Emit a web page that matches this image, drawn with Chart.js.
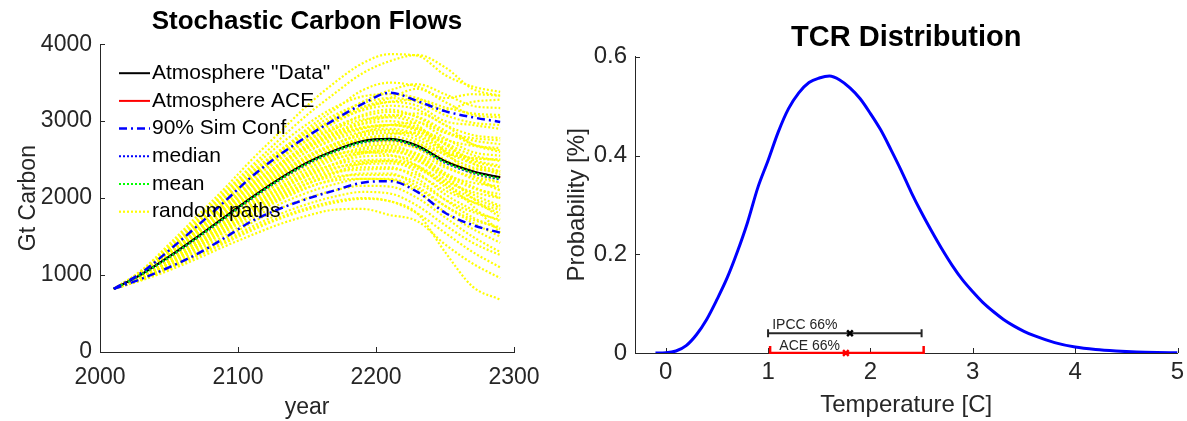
<!DOCTYPE html>
<html>
<head>
<meta charset="utf-8">
<title>Stochastic Carbon Flows / TCR Distribution</title>
<script src="https://cdn.jsdelivr.net/npm/chart.js"></script>
<style>
  body { margin: 0; background: #fff; }
  #wrap { position: relative; width: 1187px; height: 421px; overflow: hidden; }
  #leftBox { position: absolute; left: 0; top: 0; width: 560px; height: 421px; }
  #rightBox { position: absolute; left: 560px; top: 0; width: 627px; height: 421px; }
</style>
</head>
<body>
<div id="wrap">
  <div id="leftBox"><canvas id="carbonChart" width="560" height="421"></canvas></div>
  <div id="rightBox"><canvas id="tcrChart" width="627" height="421"></canvas></div>
</div>
<script>
// ---------- left panel: stochastic carbon flows ----------
const years = [2010, 2030, 2050, 2070, 2090, 2110, 2130, 2150, 2170, 2190, 2210, 2230, 2250, 2270, 2290];
const atmData   = [820, 1010, 1240, 1490, 1750, 2010, 2250, 2460, 2620, 2740, 2770, 2680, 2480, 2350, 2270];
const atmACE    = [820, 1010, 1238, 1487, 1747, 2007, 2247, 2457, 2617, 2737, 2766, 2676, 2476, 2346, 2266];
const simMedian = [820, 1005, 1228, 1475, 1733, 1992, 2232, 2442, 2603, 2722, 2752, 2660, 2458, 2325, 2240];
const simMean   = [820, 1007, 1232, 1480, 1738, 1998, 2238, 2448, 2608, 2727, 2758, 2667, 2466, 2334, 2250];
const confUpper = [820, 1030, 1320, 1630, 1950, 2280, 2560, 2800, 3020, 3220, 3370, 3260, 3130, 3050, 2990];
const confLower = [820, 950, 1100, 1270, 1480, 1700, 1860, 1990, 2100, 2200, 2220, 2080, 1810, 1650, 1550];
const randomPaths = [
  [820, 1060, 1400, 1760, 2120, 2500, 2850, 3200, 3500, 3750, 3870, 3850, 3600, 3450, 3380],
  [820, 1050, 1380, 1720, 2080, 2420, 2760, 3080, 3360, 3620, 3780, 3860, 3700, 3420, 3330],
  [820, 1040, 1350, 1680, 2050, 2340, 2600, 2900, 3150, 3400, 3500, 3450, 3300, 3350, 3330],
  [820, 1030, 1320, 1640, 1990, 2300, 2560, 2800, 3050, 3250, 3400, 3480, 3350, 3200, 3170],
  [820, 1020, 1290, 1600, 1940, 2250, 2520, 2760, 2980, 3150, 3250, 3200, 3000, 2950, 2900],
  [820, 1020, 1280, 1580, 1900, 2200, 2450, 2700, 2900, 3080, 3150, 3050, 2850, 2750, 2700],
  [820, 1010, 1260, 1550, 1850, 2150, 2420, 2660, 2850, 3000, 3080, 3000, 2780, 2600, 2550],
  [820, 1010, 1250, 1520, 1810, 2100, 2370, 2600, 2780, 2900, 2950, 2900, 2700, 2500, 2420],
  [820, 1000, 1240, 1500, 1780, 2060, 2300, 2520, 2700, 2830, 2880, 2800, 2600, 2450, 2350],
  [820, 1000, 1230, 1480, 1760, 2030, 2270, 2480, 2650, 2780, 2800, 2720, 2500, 2330, 2200],
  [820, 990, 1210, 1460, 1720, 2000, 2230, 2430, 2600, 2700, 2730, 2640, 2420, 2250, 2100],
  [820, 990, 1200, 1440, 1700, 1960, 2190, 2380, 2550, 2650, 2680, 2560, 2330, 2150, 2000],
  [820, 980, 1190, 1420, 1670, 1930, 2150, 2340, 2500, 2600, 2620, 2500, 2250, 2050, 1900],
  [820, 980, 1180, 1400, 1650, 1900, 2100, 2290, 2440, 2540, 2550, 2420, 2150, 1950, 1800],
  [820, 970, 1160, 1380, 1620, 1860, 2060, 2240, 2380, 2470, 2480, 2330, 2050, 1850, 1700],
  [820, 970, 1150, 1360, 1590, 1820, 2020, 2190, 2320, 2400, 2400, 2250, 1980, 1750, 1600],
  [820, 960, 1130, 1330, 1550, 1770, 1970, 2130, 2250, 2320, 2320, 2150, 1900, 1680, 1500],
  [820, 960, 1120, 1310, 1510, 1730, 1920, 2070, 2180, 2250, 2240, 2080, 1820, 1600, 1420],
  [820, 950, 1100, 1280, 1470, 1680, 1860, 2000, 2100, 2160, 2150, 2000, 1750, 1500, 1300],
  [820, 950, 1090, 1260, 1440, 1630, 1790, 1920, 2020, 2080, 2060, 1900, 1650, 1420, 1260],
  [820, 940, 1080, 1240, 1410, 1580, 1730, 1850, 1940, 1990, 1960, 1800, 1550, 1300, 1100],
  [820, 930, 1060, 1210, 1370, 1520, 1660, 1770, 1850, 1860, 1780, 1700, 1400, 1150, 960],
  [820, 940, 1090, 1250, 1420, 1600, 1750, 1870, 1960, 2000, 1960, 1800, 1300, 850, 680],
  [820, 1030, 1310, 1620, 1960, 2280, 2540, 2750, 2900, 3020, 3050, 2950, 2600, 2300, 2100],
  [820, 990, 1220, 1480, 1770, 2050, 2300, 2520, 2700, 2850, 2950, 2980, 2850, 2780, 2750],
  [820, 1000, 1230, 1490, 1770, 2040, 2280, 2480, 2650, 2760, 2830, 2850, 2700, 2450, 2300],
  [820, 1040, 1340, 1670, 2020, 2350, 2620, 2850, 3020, 3180, 3300, 3420, 3250, 3080, 3050],
  [820, 970, 1170, 1400, 1650, 1900, 2120, 2300, 2450, 2580, 2620, 2550, 2300, 2000, 1750],
  [820, 960, 1140, 1350, 1570, 1800, 2000, 2180, 2330, 2450, 2480, 2400, 2200, 1900, 1550],
  [820, 1010, 1270, 1560, 1870, 2170, 2430, 2650, 2830, 2970, 3060, 3100, 2950, 2700, 2600],
  [820, 1040, 1330, 1650, 1990, 2320, 2610, 2870, 3080, 3230, 3300, 3250, 3080, 2980, 2950],
  [820, 1030, 1310, 1620, 1950, 2270, 2550, 2800, 3000, 3140, 3200, 3150, 2950, 2820, 2780],
  [820, 1020, 1300, 1600, 1920, 2230, 2500, 2740, 2930, 3060, 3120, 3060, 2880, 2700, 2620],
  [820, 1020, 1290, 1580, 1890, 2190, 2450, 2680, 2860, 2960, 3000, 2920, 2720, 2560, 2480],
  [820, 1010, 1270, 1560, 1860, 2160, 2420, 2640, 2810, 2910, 2950, 2900, 2760, 2680, 2650],
  [820, 1010, 1260, 1540, 1840, 2130, 2390, 2600, 2760, 2860, 2900, 2830, 2620, 2480, 2400],
  [820, 1000, 1250, 1520, 1810, 2090, 2340, 2550, 2710, 2810, 2850, 2760, 2560, 2400, 2330],
  [820, 1000, 1230, 1490, 1760, 2030, 2260, 2460, 2610, 2680, 2700, 2650, 2480, 2380, 2350],
  [820, 990, 1220, 1470, 1740, 2000, 2230, 2420, 2560, 2630, 2650, 2580, 2400, 2280, 2200],
  [820, 990, 1210, 1450, 1710, 1970, 2190, 2380, 2520, 2580, 2600, 2520, 2300, 2130, 2050],
  [820, 980, 1200, 1430, 1680, 1930, 2140, 2320, 2440, 2490, 2500, 2420, 2220, 2080, 2000],
  [820, 980, 1190, 1410, 1660, 1900, 2110, 2280, 2400, 2440, 2450, 2380, 2180, 2000, 1880],
  [820, 970, 1170, 1390, 1630, 1870, 2070, 2230, 2340, 2370, 2380, 2300, 2100, 1950, 1850],
  [820, 970, 1160, 1370, 1600, 1840, 2040, 2190, 2280, 2300, 2300, 2200, 1980, 1820, 1720],
  [820, 960, 1150, 1350, 1570, 1800, 1990, 2140, 2230, 2250, 2250, 2120, 1900, 1720, 1620],
  [820, 1040, 1330, 1650, 1990, 2310, 2590, 2840, 3030, 3180, 3250, 3280, 3180, 3100, 3080],
  [820, 1050, 1360, 1700, 2060, 2390, 2690, 2960, 3180, 3320, 3350, 3300, 3150, 3250, 3280],
  [820, 1010, 1270, 1560, 1880, 2180, 2440, 2660, 2830, 2920, 2950, 2870, 2650, 2520, 2500],
  [820, 1000, 1240, 1510, 1790, 2070, 2320, 2530, 2680, 2740, 2750, 2700, 2580, 2520, 2500],
  [820, 990, 1220, 1480, 1750, 2010, 2240, 2440, 2570, 2600, 2560, 2480, 2300, 2200, 2150]
];
const legendLabels = ['Atmosphere "Data"', 'Atmosphere ACE', '90% Sim Conf', 'median', 'mean', 'random paths'];

// ---------- right panel: TCR distribution ----------
const tcrTemp = [-0.1, 0, 0.1, 0.2, 0.3, 0.4, 0.5, 0.6, 0.7, 0.8, 0.9, 1.0, 1.1, 1.2, 1.3, 1.4, 1.5, 1.6, 1.7, 1.8, 1.9,
  2.0, 2.1, 2.2, 2.3, 2.4, 2.5, 2.6, 2.7, 2.8, 2.9, 3.0, 3.1, 3.2, 3.3, 3.4, 3.5, 3.6, 3.8, 4.0, 4.2, 4.4, 4.6, 4.8, 5.0];
const tcrProb = [0, 0.0005, 0.004, 0.015, 0.037, 0.068, 0.108, 0.152, 0.205, 0.265, 0.335, 0.39, 0.448, 0.495, 0.527, 0.548, 0.557, 0.561, 0.553, 0.537, 0.515,
  0.485, 0.452, 0.412, 0.37, 0.325, 0.284, 0.246, 0.21, 0.177, 0.148, 0.124, 0.102, 0.084, 0.068, 0.055, 0.044, 0.035, 0.021, 0.012, 0.007, 0.004, 0.002, 0.001, 0.0005];
const ipccRange = [1.0, 2.5];
const ipccBest = 1.8;
const ipccLevel = 0.04;
const aceRange = [1.02, 2.52];
const aceBest = 1.76;
const aceLevel = 0;
const ipccText = { text: 'IPCC 66%', x: 1.04, y: 0.057 };
const aceText = { text: 'ACE 66%', x: 1.11, y: 0.013 };

const FONT = '"Liberation Sans", Arial, Helvetica, sans-serif';
const AXIS = '#262626';
Chart.defaults.font.family = FONT;
Chart.defaults.color = AXIS;

function pts(xs, ys) {
  return xs.map((x, i) => ({ x: x, y: ys[i] }));
}

// small ticks pointing into the plot, like the original
const inwardTicks = {
  id: 'inwardTicks',
  beforeDatasetsDraw(chart) {
    const { ctx, chartArea, scales } = chart;
    ctx.save();
    ctx.strokeStyle = AXIS;
    ctx.lineWidth = 1;
    ctx.beginPath();
    scales.x.ticks.forEach(t => {
      const px = Math.round(scales.x.getPixelForValue(t.value)) + 0.5;
      ctx.moveTo(px, chartArea.bottom);
      ctx.lineTo(px, chartArea.bottom - 5);
    });
    scales.y.ticks.forEach(t => {
      const py = Math.round(scales.y.getPixelForValue(t.value)) + 0.5;
      ctx.moveTo(chartArea.left, py);
      ctx.lineTo(chartArea.left + 5, py);
    });
    ctx.stroke();
    ctx.restore();
  }
};

// legend drawn inside the plot area, without a box
const carbonLegend = {
  id: 'carbonLegend',
  afterDraw(chart) {
    const { ctx, chartArea } = chart;
    ctx.save();
    ctx.font = '21px ' + FONT;
    ctx.textBaseline = 'middle';
    ctx.textAlign = 'left';
    legendLabels.forEach((lab, i) => {
      const ds = chart.data.datasets.find(d => d.label === lab);
      const y = chartArea.top + 29 + i * 27.7;
      const x0 = chartArea.left + 19;
      ctx.strokeStyle = ds.borderColor;
      ctx.lineWidth = ds.borderWidth;
      ctx.setLineDash(ds.borderDash || []);
      ctx.beginPath();
      ctx.moveTo(x0, y);
      ctx.lineTo(x0 + 31, y);
      ctx.stroke();
      ctx.fillStyle = '#000';
      ctx.fillText(lab, x0 + 33, y);
    });
    ctx.restore();
  }
};

const pathSets = randomPaths.map((p, i) => ({
  label: i === 0 ? 'random paths' : 'path ' + (i + 1),
  data: pts(years, p),
  borderColor: '#ffff00',
  borderWidth: 2.2,
  borderDash: [2, 2],
  pointRadius: 0,
  cubicInterpolationMode: 'monotone',
  order: 10
}));

new Chart(document.getElementById('carbonChart'), {
  type: 'line',
  data: {
    datasets: [
      { label: '90% Sim Conf', data: pts(years, confUpper), borderColor: '#0000ff', borderWidth: 2.5, borderDash: [8, 4, 2, 4], pointRadius: 0, cubicInterpolationMode: 'monotone', order: 1 },
      { label: '90% Sim Conf (low)', data: pts(years, confLower), borderColor: '#0000ff', borderWidth: 2.5, borderDash: [8, 4, 2, 4], pointRadius: 0, cubicInterpolationMode: 'monotone', order: 1 },
      { label: 'mean', data: pts(years, simMean), borderColor: '#00ff00', borderWidth: 2, borderDash: [2, 2], pointRadius: 0, cubicInterpolationMode: 'monotone', order: 2 },
      { label: 'median', data: pts(years, simMedian), borderColor: '#0000ff', borderWidth: 2, borderDash: [2, 2], pointRadius: 0, cubicInterpolationMode: 'monotone', order: 3 },
      { label: 'Atmosphere "Data"', data: pts(years, atmData), borderColor: '#000000', borderWidth: 2, pointRadius: 0, cubicInterpolationMode: 'monotone', order: 4 },
      { label: 'Atmosphere ACE', data: pts(years, atmACE), borderColor: '#ff0000', borderWidth: 2, pointRadius: 0, cubicInterpolationMode: 'monotone', order: 5 }
    ].concat(pathSets)
  },
  options: {
    responsive: false,
    animation: false,
    devicePixelRatio: 1,
    layout: { padding: { left: 0, right: 46, top: 0, bottom: 0 } },
    plugins: {
      legend: { display: false },
      tooltip: { enabled: false },
      title: {
        display: true,
        text: 'Stochastic Carbon Flows',
        color: '#000',
        font: { size: 26, weight: 'bold' },
        padding: { top: 6, bottom: 7 },
        fullSize: false
      }
    },
    scales: {
      x: {
        type: 'linear', min: 2000, max: 2300,
        ticks: { stepSize: 100, font: { size: 23 }, color: AXIS, padding: 12, maxRotation: 0, callback: v => String(v) },
        grid: { display: false, drawTicks: false },
        border: { color: AXIS, width: 1 },
        title: { display: true, text: 'year', font: { size: 23 }, color: AXIS, padding: { top: 0, bottom: 0 } },
        afterFit(s) { s.height = 69; s.paddingLeft = 0; s.paddingRight = 0; }
      },
      y: {
        min: 0, max: 4000,
        ticks: { stepSize: 1000, font: { size: 23 }, color: AXIS, padding: 8, callback: v => String(v) },
        grid: { display: false, drawTicks: false },
        border: { color: AXIS, width: 1 },
        title: { display: true, text: 'Gt Carbon', font: { size: 23 }, color: AXIS, padding: { top: 15, bottom: 0 } },
        afterFit(s) { s.width = 100; s.paddingTop = 0; s.paddingBottom = 0; }
      }
    }
  },
  plugins: [inwardTicks, carbonLegend]
});

// interval labels drawn at data positions
const intervalLabels = {
  id: 'intervalLabels',
  afterDatasetsDraw(chart) {
    const { ctx, scales } = chart;
    ctx.save();
    ctx.font = '14px ' + FONT;
    ctx.fillStyle = AXIS;
    ctx.textBaseline = 'middle';
    ctx.textAlign = 'left';
    [ipccText, aceText].forEach(t => {
      ctx.fillText(t.text, scales.x.getPixelForValue(t.x), scales.y.getPixelForValue(t.y));
    });
    ctx.restore();
  }
};

new Chart(document.getElementById('tcrChart'), {
  type: 'line',
  data: {
    datasets: [
      { label: 'IPCC best', data: [{ x: ipccBest, y: ipccLevel }], showLine: false, pointStyle: 'crossRot', pointRadius: 4,
        pointBorderWidth: 2.5, pointBorderColor: '#000', borderColor: '#000', clip: false },
      { label: 'ACE best', data: [{ x: aceBest, y: aceLevel }], showLine: false, pointStyle: 'crossRot', pointRadius: 4,
        pointBorderWidth: 2.5, pointBorderColor: '#ff0000', borderColor: '#ff0000', clip: false },
      { label: 'IPCC 66%', data: [{ x: ipccRange[0], y: ipccLevel }, { x: ipccRange[1], y: ipccLevel }],
        borderColor: AXIS, borderWidth: 2, pointStyle: 'line', rotation: 90, pointRadius: 4, pointBorderWidth: 2, pointBorderColor: AXIS },
      { label: 'ACE 66%', data: [{ x: aceRange[0], y: aceLevel }, { x: aceRange[1], y: aceLevel }],
        borderColor: '#ff0000', borderWidth: 2.5, pointStyle: 'line', rotation: 90, pointRadius: 7, pointBorderWidth: 2.5,
        pointBorderColor: '#ff0000', clip: { left: 10, top: 10, right: 10, bottom: 1 } },
      { label: 'TCR', data: pts(tcrTemp, tcrProb), borderColor: '#0000ff', borderWidth: 3, pointRadius: 0, cubicInterpolationMode: 'monotone' }
    ]
  },
  options: {
    responsive: false,
    animation: false,
    devicePixelRatio: 1,
    layout: { padding: { left: 0, right: 8, top: 0, bottom: 0 } },
    plugins: {
      legend: { display: false },
      tooltip: { enabled: false },
      title: {
        display: true,
        text: 'TCR Distribution',
        color: '#000',
        font: { size: 29, weight: 'bold' },
        padding: { top: 21, bottom: 1 },
        fullSize: false
      }
    },
    scales: {
      x: {
        type: 'linear', min: -0.3, max: 5,
        ticks: { stepSize: 1, includeBounds: false, font: { size: 24 }, color: AXIS, padding: 5, maxRotation: 0 },
        grid: { display: false, drawTicks: false },
        border: { color: AXIS, width: 1 },
        title: { display: true, text: 'Temperature [C]', font: { size: 24 }, color: AXIS, padding: { top: 0, bottom: 1 } },
        afterFit(s) { s.height = 68; s.paddingLeft = 0; s.paddingRight = 0; }
      },
      y: {
        min: 0, max: 0.6,
        ticks: { stepSize: 0.2, font: { size: 24 }, color: AXIS, padding: 8, callback: v => v === 0 ? '0' : v.toFixed(1) },
        grid: { display: false, drawTicks: false },
        border: { color: AXIS, width: 1 },
        title: { display: true, text: 'Probability [%]', font: { size: 24 }, color: AXIS, padding: { top: 3, bottom: 0 } },
        afterFit(s) { s.width = 75; s.paddingTop = 0; s.paddingBottom = 0; }
      }
    }
  },
  plugins: [inwardTicks, intervalLabels]
});
</script>
</body>
</html>
